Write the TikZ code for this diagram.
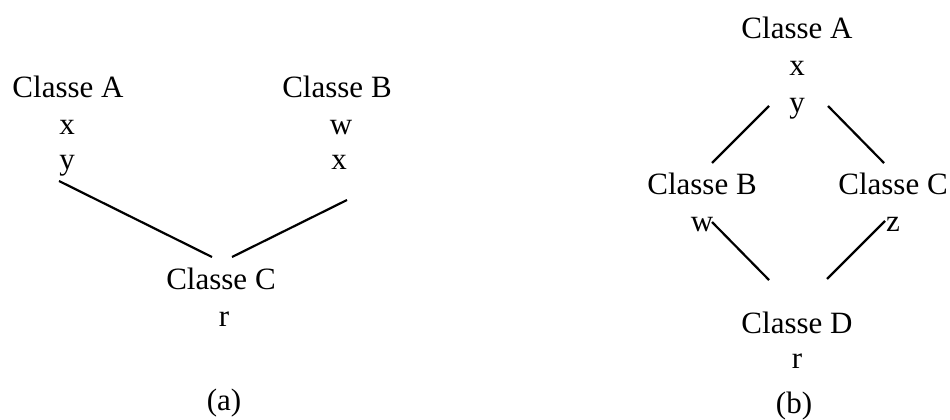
\documentclass[tikz,border=0pt]{standalone}
\usepackage{fontspec}
\setmainfont{Liberation Serif}
\begin{document}
\begin{tikzpicture}[x=1pt,y=-1pt,
  lbl/.style={anchor=base,inner sep=0pt,outer sep=0pt,font=\fontsize{31}{36}\selectfont},
  link/.style={line width=2.2pt}]
\useasboundingbox (0,0) rectangle (950,420);
% (a)
\node[lbl] (la)  at (68,97)  {Classe A};
\node[lbl] (lax) at (67,134) {x};
\node[lbl] (lay) at (67,169) {y};
\node[lbl] (lb)  at (337,97) {Classe B};
\node[lbl] (lbw) at (341,134) {w};
\node[lbl] (lbx) at (339,169) {x};
\node[lbl] (lc)  at (221,289) {Classe C};
\node[lbl] (lcr) at (224,326) {r};
\node[lbl] (capa) at (224,410) {(a)};
\coordinate (a1) at (59,181);
\coordinate (a2) at (212,257);
\coordinate (a3) at (347,200);
\coordinate (a4) at (232,257);
\draw[link] (a1) -- (a2);
\draw[link] (a3) -- (a4);
% (b)
\node[lbl] (ra)  at (797,38)  {Classe A};
\node[lbl] (rax) at (797,75)  {x};
\node[lbl] (ray) at (797,112) {y};
\node[lbl] (rb)  at (702,194) {Classe B};
\node[lbl] (rbw) at (702,231) {w};
\node[lbl] (rc)  at (893,194) {Classe C};
\node[lbl] (rcz) at (893,231) {z};
\node[lbl] (rd)  at (797,333) {Classe D};
\node[lbl] (rdr) at (797,368) {r};
\node[lbl] (capb) at (794,413) {(b)};
\coordinate (b1) at (769,106);
\coordinate (b2) at (712,163);
\coordinate (b3) at (828,106);
\coordinate (b4) at (884,163);
\coordinate (b5) at (712,222);
\coordinate (b6) at (769,280);
\coordinate (b7) at (885,221);
\coordinate (b8) at (827,279);
\draw[link] (b1) -- (b2);
\draw[link] (b3) -- (b4);
\draw[link] (b5) -- (b6);
\draw[link] (b7) -- (b8);
\end{tikzpicture}
\end{document}
